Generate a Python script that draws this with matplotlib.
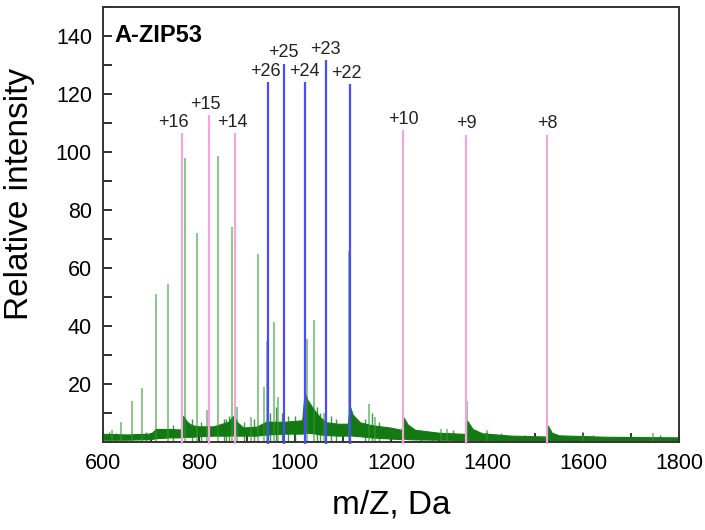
import numpy as np
import matplotlib
matplotlib.use("Agg")
import matplotlib.pyplot as plt
from matplotlib.ticker import MultipleLocator

plt.rcParams["font.family"] = ["Liberation Sans", "DejaVu Sans"]

# spectrum peaks (m/z, relative intensity)
peak_mz = [618, 637, 660, 682, 710, 735, 770, 796, 817, 840, 868, 879,
           908, 923, 935, 942, 956, 965, 1020, 1026, 1039, 1061, 1113,
           1154, 1167, 1224, 1304, 1317, 1358, 1399, 1526, 1599, 1746]
peak_int = [4, 7, 14, 18.5, 51, 54.5, 98, 72, 11, 98.5, 74, 12,
            8.5, 65, 19, 35, 41.5, 15.5, 74.5, 35.5, 42, 10, 66,
            13, 8.5, 32, 4.5, 4.5, 14, 4, 8.5, 3.5, 3]

# small spikes riding on the baseline
spike_mz = [612, 628, 690, 745, 785, 805, 852, 857, 862, 893, 915, 948,
            960, 972, 985, 1000, 1045, 1052, 1075, 1085, 1145, 1160, 1175,
            1262, 1285, 1330, 1430, 1480, 1620, 1700, 1760]
spike_int = [3.5, 3, 3.5, 6, 8, 7, 8, 8, 9, 7, 8, 10,
             12, 10, 9, 9, 12, 10, 9, 8, 8, 10, 7,
             4, 3.5, 4, 3, 2.5, 2.5, 2.5, 2.5]

# noisy baseline band (lower / upper edge)
base_mz = [600, 650, 700, 710, 740, 764, 767, 775, 785, 800, 830, 862, 868,
           872, 880, 892, 920, 940, 980, 1015, 1020, 1026, 1038, 1052, 1066,
           1090, 1110, 1114, 1120, 1135, 1160, 1198, 1222, 1226, 1235, 1250,
           1300, 1355, 1359, 1370, 1390, 1450, 1524, 1527, 1535, 1550, 1650,
           1800]
base_lo = [0.8, 0.8, 1.0, 1.3, 1.6, 1.6, 1.8, 1.8, 1.8, 2.0, 2.2, 2.2, 2.3,
           2.3, 2.2, 2.2, 2.2, 2.6, 2.9, 2.9, 3.2, 3.2, 3.0, 2.6, 2.4,
           2.2, 2.2, 2.3, 2.2, 2.0, 1.6, 1.2, 1.0, 1.2, 1.0, 0.9,
           0.8, 0.7, 0.8, 0.6, 0.5, 0.4, 0.3, 0.3, 0.3, 0.3, 0.3,
           0.3]
base_hi = [2.8, 2.6, 2.9, 4.5, 4.5, 4.3, 9.0, 7.0, 5.8, 5.4, 5.4, 7.0, 8.5,
           9.0, 6.8, 5.0, 5.3, 7.0, 7.0, 7.5, 17.0, 14.5, 11.5, 8.5, 6.8,
           6.3, 6.3, 12.5, 9.5, 6.8, 5.8, 5.0, 4.2, 8.5, 6.0, 4.2,
           3.2, 2.8, 7.3, 4.5, 3.0, 2.2, 1.9, 5.6, 3.2, 2.3, 1.8,
           1.6]

# charge-state markers
pink_labels = ["+16", "+15", "+14", "+10", "+9", "+8"]
pink_mz = [765, 821, 874, 1226, 1357, 1526]
pink_top = [106.5, 112.7, 106.5, 107.5, 106, 106]
pink_dx = [-19, -8, -4, 0, 0, 0]

blue_labels = ["+26", "+25", "+24", "+23", "+22"]
blue_mz = [944, 977, 1021, 1064, 1114]
blue_top = [124, 130.5, 124, 131.7, 123.4]
blue_dx = [-6, -2, -2, 0, -6]

PINK = "#f2a6da"
BLUE = "#4a4aff"
GREEN = "#137a13"

fig = plt.figure(figsize=(7.05, 5.30), dpi=100)
ax = fig.add_axes([0.1461, 0.166, 0.817, 0.8208])

ax.fill_between(base_mz, base_lo, base_hi, color=GREEN, lw=0.8, zorder=2)
ax.vlines(spike_mz, 0.5, spike_int, color=GREEN, lw=1.0, alpha=0.8, zorder=2)
ax.vlines(peak_mz, 0, peak_int, color="#2e9a2e", lw=1.3, alpha=0.6, zorder=2)

ax.vlines(pink_mz, -0.8, pink_top, color=PINK, lw=1.6, zorder=3, clip_on=False)
ax.vlines(blue_mz, -0.8, blue_top, color=BLUE, lw=1.6, zorder=3, clip_on=False)

for lab, x, top, dx in zip(pink_labels + blue_labels, pink_mz + blue_mz,
                           pink_top + blue_top, pink_dx + blue_dx):
    ax.text(x + dx, top + 0.8, lab, ha="center", va="bottom", fontsize=13,
            color="#222222", zorder=4)

ax.text(624, 140, "A-ZIP53", ha="left", va="center", fontsize=17,
        fontweight="bold", color="black")

ax.set_xlim(600, 1800)
ax.set_ylim(0, 150)
ax.xaxis.set_major_locator(MultipleLocator(200))
ax.xaxis.set_minor_locator(MultipleLocator(100))
ax.set_yticks(np.arange(20, 141, 20))
ax.yaxis.set_minor_locator(MultipleLocator(10))
ax.tick_params(which="both", direction="in", length=6.5, width=1.3,
               labelsize=15.5, pad=8, color="#222222")

for s in ax.spines.values():
    s.set_linewidth(1.4)
    s.set_color("#333333")

ax.set_xlabel("m/Z, Da", fontsize=24)
ax.set_ylabel("Relative intensity", fontsize=24)
ax.xaxis.set_label_coords(0.5, -0.11)
ax.yaxis.set_label_coords(-0.118, 0.57)

fig.savefig("out.png", dpi=100)
